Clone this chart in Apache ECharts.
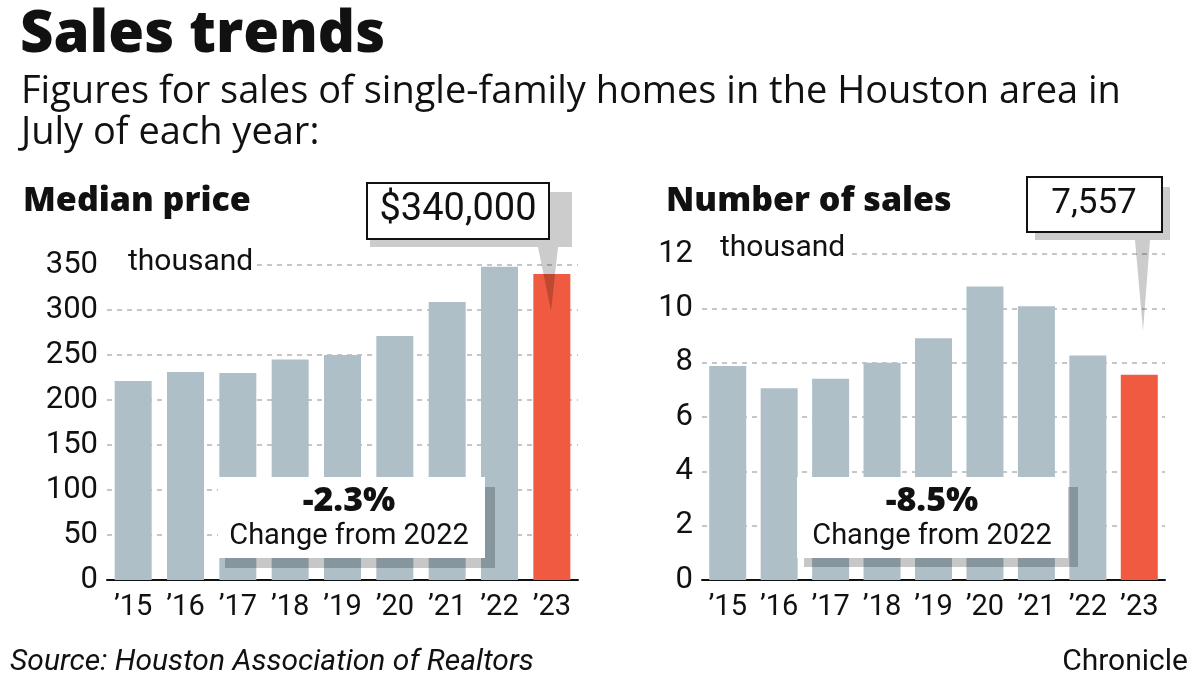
<!DOCTYPE html>
<html>
<head>
<meta charset="utf-8">
<script src="https://cdn.jsdelivr.net/npm/echarts@6/dist/echarts.min.js"></script>
<style>
html,body{margin:0;padding:0;background:#fff;}
#c{width:1200px;height:680px;}
</style>
</head>
<body>
<div id="c"></div>
<script>
const years = ["’15","’16","’17","’18","’19","’20","’21","’22","’23"];
const medianPrice = [221, 231, 230, 245, 250, 271, 309, 348, 340];   // thousand $
const salesCount = [7.88, 7.06, 7.41, 8.0, 8.9, 10.8, 10.08, 8.26, 7.557]; // thousand
const priceTicks = {min: 0, max: 350, interval: 50};
const salesTicks = {min: 0, max: 12, interval: 2};
const priceCallout = "$340,000";
const salesCallout = "7,557";
const priceChange = "-2.3%";
const salesChange = "-8.5%";

const FONT = "Roboto, 'Noto Sans', sans-serif";
const WIDE = "'Open Sans', Roboto, sans-serif";
const GRAY = "#aebfc8";
const RED = "#ef5a40";
const colorFn = p => p.dataIndex === years.length - 1 ? RED : GRAY;

const chart = echarts.init(document.getElementById('c'));

function yAxis(idx, t) {
  return {
    type: 'value', gridIndex: idx, min: t.min, max: t.max, interval: t.interval,
    axisLine: {show: false}, axisTick: {show: false},
    axisLabel: {color: '#111', fontSize: 31, fontFamily: FONT, margin: 9},
    splitLine: {show: true, lineStyle: {color: '#c6c6c6', width: 2, type: [5, 5]}}
  };
}
function xAxis(idx) {
  return {
    type: 'category', gridIndex: idx, data: years,
    axisLine: {show: true, lineStyle: {color: '#111', width: 2}},
    axisTick: {show: false},
    axisLabel: {color: '#111', fontSize: 29, fontFamily: FONT, margin: 13, interval: 0}
  };
}

function textEl(x, y, text, size, weight, align, family, italic) {
  return {
    type: 'text', x: x, y: y, z: 120,
    style: {text: text, fill: '#111',
            font: (italic ? 'italic ' : '') + weight + ' ' + size + 'px ' + (family || FONT),
            textAlign: align || 'left', textVerticalAlign: 'middle'}
  };
}

const graphics = [
  textEl(20, 35, 'Sales trends', 58, 800, 'left', WIDE),
  textEl(21, 92, 'Figures for sales of single-family homes in the Houston area in', 38, 400, 'left', WIDE),
  textEl(21, 133, 'July of each year:', 38, 400, 'left', WIDE),
  textEl(23, 201, 'Median price', 34, 800, 'left', WIDE),
  textEl(666, 201, 'Number of sales', 34, 800, 'left', WIDE),
  // white backing for "thousand"
  {type: 'rect', z: 110, shape: {x: 104, y: 250, width: 152, height: 26}, style: {fill: '#fff'}},
  {type: 'rect', z: 110, shape: {x: 700, y: 236, width: 148, height: 26}, style: {fill: '#fff'}},
  textEl(128, 262, 'thousand', 30, 400),
  textEl(720, 248, 'thousand', 30, 400),
  // change boxes
  {type: 'rect', z: 105, shape: {x: 225, y: 487, width: 270, height: 81}, style: {fill: 'rgba(0,0,0,0.22)'}},
  {type: 'rect', z: 106, shape: {x: 218, y: 477, width: 267, height: 81}, style: {fill: '#fff'}},
  textEl(349, 501, priceChange, 34, 800, 'center', WIDE),
  textEl(349, 537, 'Change from 2022', 29, 400, 'center'),
  {type: 'rect', z: 105, shape: {x: 804, y: 487, width: 274, height: 80}, style: {fill: 'rgba(0,0,0,0.22)'}},
  {type: 'rect', z: 106, shape: {x: 797, y: 477, width: 271, height: 81}, style: {fill: '#fff'}},
  textEl(932, 501, salesChange, 34, 800, 'center', WIDE),
  textEl(932, 537, 'Change from 2022', 29, 400, 'center'),
  // price callout
  {type: 'polygon', z: 105, shape: {points: [[370,192],[572,192],[572,247],[558,247],[551,311],[538,247],[370,247]]},
    style: {fill: 'rgba(0,0,0,0.2)'}},
  {type: 'rect', z: 106, shape: {x: 367, y: 183, width: 182, height: 56}, style: {fill: '#fff', stroke: '#111', lineWidth: 2}},
  textEl(458, 210, priceCallout, 38, 400, 'center'),
  // sales callout
  {type: 'polygon', z: 105, shape: {points: [[1035,187],[1170,187],[1170,240],[1150,240],[1143,331],[1135,240],[1035,240]]},
    style: {fill: 'rgba(0,0,0,0.2)'}},
  {type: 'rect', z: 106, shape: {x: 1027, y: 177, width: 135, height: 55}, style: {fill: '#fff', stroke: '#111', lineWidth: 2}},
  textEl(1094, 204, salesCallout, 35, 400, 'center'),
  // footer
  textEl(10, 662, 'Source: Houston Association of Realtors', 30, 400, 'left', FONT, true),
  textEl(1188, 662, 'Chronicle', 30, 400, 'right')
];

chart.setOption({
  animation: false,
  backgroundColor: '#fff',
  grid: [
    {left: 107, right: 622, top: 265, bottom: 100},
    {left: 702, right: 35, top: 254, bottom: 100}
  ],
  xAxis: [xAxis(0), xAxis(1)],
  yAxis: [yAxis(0, priceTicks), yAxis(1, salesTicks)],
  series: [
    {type: 'bar', xAxisIndex: 0, yAxisIndex: 0, data: medianPrice, barWidth: 37, z: 3,
      itemStyle: {color: colorFn}},
    {type: 'bar', xAxisIndex: 1, yAxisIndex: 1, data: salesCount, barWidth: 37, z: 3,
      itemStyle: {color: colorFn}}
  ],
  graphic: graphics
});
</script>
</body>
</html>
